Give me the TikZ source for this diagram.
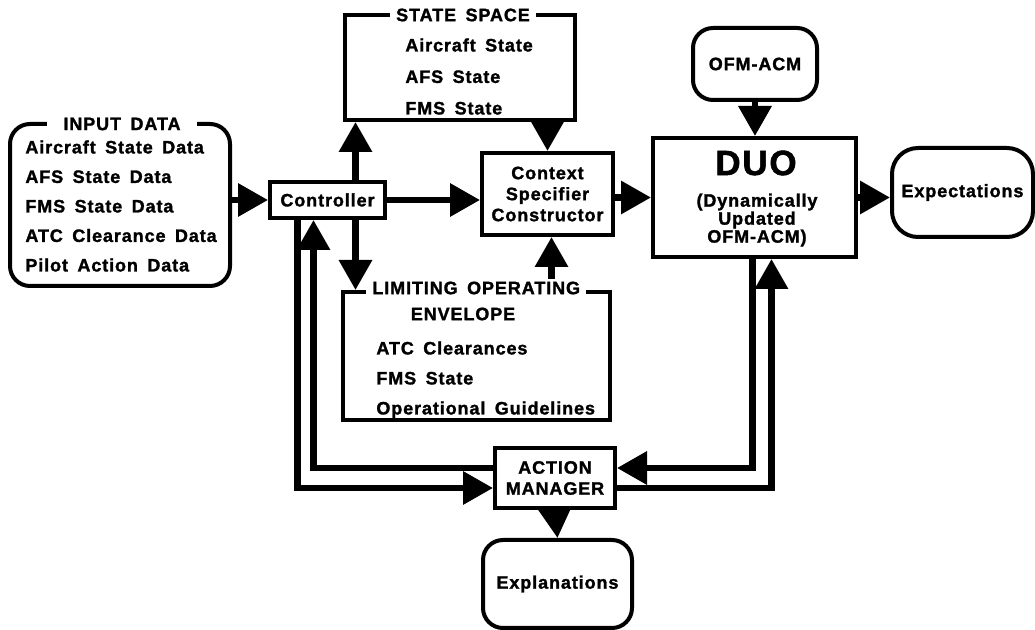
\documentclass[tikz,border=0pt]{standalone}
\usepackage{fontspec}
\setmainfont{Liberation Sans}[LetterSpace=5, WordSpace=1.6, BoldFeatures={FakeBold=1.5}]
\usetikzlibrary{arrows.meta, positioning, calc}

\begin{document}
\begin{tikzpicture}[x=0.5pt, y=-0.5pt, >={Triangle[length=15pt, width=16pt]},
    box/.style={draw, line width=2pt, inner sep=0pt},
    roundbox/.style={box, rounded corners=10pt},
    title/.style={fill=white, inner xsep=3pt, inner ysep=1pt, font=\bfseries\fontsize{9}{11}\selectfont},
    txt/.style={align=left, inner sep=0pt, font=\bfseries\fontsize{9}{#1}\selectfont},
    txt/.default=15pt,
    ctr/.style={align=center, inner sep=0pt, font=\bfseries\fontsize{9}{10.5}\selectfont},
    arr/.style={->, line width=3.2pt}]
        \useasboundingbox (0,0) rectangle (1035,630);
        % Input data
        \node[roundbox, minimum width=110pt, minimum height=81pt] (input) at (120,205) {};
        \node[title, inner xsep=8pt] (inputtitle) at (122,124) {INPUT DATA};
        \node[txt=14.75pt, anchor=north west] (inputlist) at (25,140) {Aircraft State Data\\AFS State Data\\FMS State Data\\ATC Clearance Data\\Pilot Action Data};
        % Controller
        \node[box, minimum width=57.5pt, minimum height=18pt, ctr] (controller) at (327.5,200) {Controller};
        % State space
        \node[box, minimum width=115pt, minimum height=52.5pt] (state) at (460,67.5) {};
        \node[title] (statetitle) at (463,15) {STATE SPACE};
        \node[txt=15.75pt, anchor=north west] (statelist) at (405,38) {Aircraft State\\AFS State\\FMS State};
        % Context specifier constructor
        \node[box, minimum width=65.5pt, minimum height=41pt, ctr] (csc) at (547.5,194) {Context\\Specifier\\Constructor};
        % Limiting operating envelope
        \node[box, minimum width=133.5pt, minimum height=64pt] (loe) at (476.5,356) {};
        \node[title, anchor=west] (loetitle) at (366,288) {LIMITING OPERATING};
        \node[ctr] (envelope) at (463,314) {ENVELOPE};
        \node[txt=15pt, anchor=north west] (loelist) at (376,341) {ATC Clearances\\FMS State\\Operational Guidelines};
        % OFM-ACM and DUO
        \node[roundbox, minimum width=62pt, minimum height=36pt, ctr] (ofm) at (755,64) {OFM-ACM};
        \node[box, minimum width=101.5pt, minimum height=59.5pt] (duo) at (754.5,197.5) {};
        \node[inner sep=0pt, font=\bfseries\fontsize{17.5}{20}\selectfont] (duotitle) at (756,163) {DUO};
        \node[ctr, font=\bfseries\fontsize{9}{9}\selectfont] (duotext) at (757,220) {(Dynamically\\Updated\\OFM-ACM)};
        \node[roundbox, rounded corners=13pt, minimum width=70.5pt, minimum height=44.5pt, ctr] (expect) at (962.5,192.5) {Expectations};
        % Action manager
        \node[box, minimum width=60pt, minimum height=30pt, ctr] (am) at (555,478) {ACTION\\MANAGER};
        \node[roundbox, minimum width=74.5pt, minimum height=44pt, ctr] (expl) at (557.5,584) {Explanations};
        % Forward flow
        \draw[arr] (controller.west -| input.east) -- (controller.west);
        \draw[arr] ([xshift=14pt]controller.north) -- ([xshift=14pt]controller.north |- state.south);
        \draw[arr] ([xshift=14pt]controller.south) -- ([xshift=14pt]controller.south |- loe.north);
        \draw[arr] (controller.east) -- (controller.east -| csc.west);
        \draw[arr] (csc.north |- state.south) -- (csc.north);
        \draw[arr] ([xshift=2pt]csc.south |- loetitle.north) -- ([xshift=2pt]csc.south);
        \draw[arr] (duo.west -| csc.east) -- (duo.west);
        \draw[arr] (ofm.south) -- (ofm.south |- duo.north);
        \draw[arr] (duo.east) -- (duo.east -| expect.west);
        % Feedback loops
        \draw[arr] ([xshift=-15pt]controller.south) |- ([yshift=-5pt]am.west);
        \draw[arr] ([yshift=5pt]am.west) -| ([xshift=-7pt]controller.south);
        \draw[arr] ([xshift=-1pt]duo.south) |- ([yshift=5pt]am.east);
        \draw[arr] ([yshift=-5pt]am.east) -| ([xshift=8.5pt]duo.south);
        \draw[arr] (am.south) -- (expl.north);
    \end{tikzpicture}
\end{document}
